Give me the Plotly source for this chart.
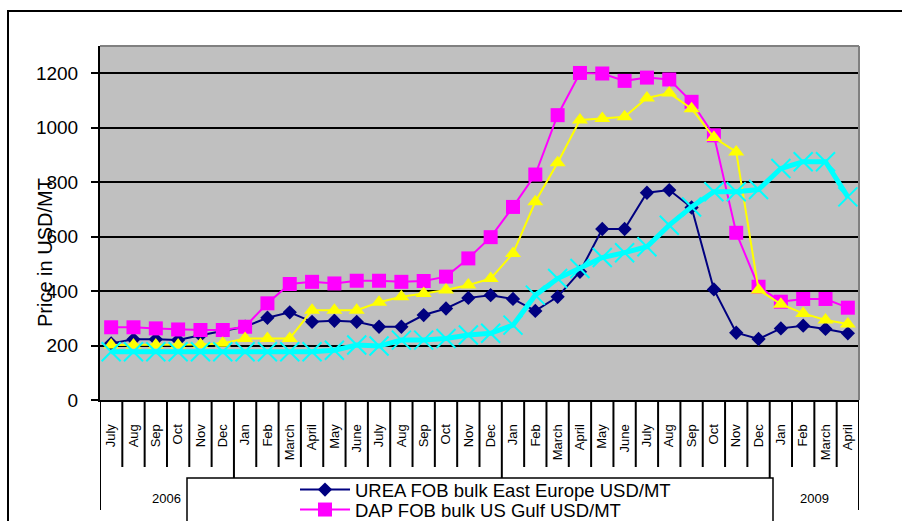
import plotly.graph_objects as go

# Monthly categories, July 2006 .. April 2009
months = (["July", "Aug", "Sep", "Oct", "Nov", "Dec"]
          + ["Jan", "Feb", "March", "April", "May", "June",
             "July", "Aug", "Sep", "Oct", "Nov", "Dec"] * 2
          + ["Jan", "Feb", "March", "April"])
years = ["2006", "2007", "2008", "2009"]
year_lengths = [6, 12, 12, 4]

urea = [208, 223, 223, 220, 238, 254,
        269, 302, 322, 287, 291, 287, 269, 269, 312, 336, 375, 385,
        371, 327, 379, 471, 628, 628, 761, 771, 707, 406, 247, 224,
        263, 273, 261, 245]
dap = [267, 267, 263, 259, 257, 257,
       269, 355, 426, 434, 428, 438, 438, 434, 437, 453, 520, 598,
       709, 828, 1046, 1201, 1199, 1172, 1184, 1177, 1095, 972, 614, 416,
       361, 371, 371, 339]
tsp = [202, 202, 202, 202, 204, 208,
       226, 226, 226, 330, 330, 330, 359, 379, 391, 404, 422, 446,
       538, 728, 871, 1028, 1034, 1040, 1109, 1127, 1070, 964, 911, 404,
       352, 318, 294, 279]
mop = [177, 177, 177, 177, 177, 177,
       177, 177, 177, 177, 183, 202, 198, 220, 220, 226, 239, 245,
       275, 385, 446, 483, 523, 541, 563, 642, 709, 765, 765, 773,
       850, 875, 875, 746]

names = ["UREA FOB bulk East Europe USD/MT",
         "DAP FOB bulk US Gulf USD/MT",
         "TSP FOB bulk US Gulf USD/MT",
         "Potassium chloride FOB Vancouver USD/MT"]

FONT = "Arial, 'Liberation Sans', sans-serif"
W, H = 902, 521
L, R, T, B = 100, 43, 46, 121
PW, PH = W - L - R, H - T - B


def px_x(p):
    return (p - L) / PW


def px_y(p):
    return (H - B - p) / PH


x = list(range(len(months)))
legend_ids = ["legend", "legend2"]

fig = go.Figure()
fig.add_trace(go.Scatter(
    x=x, y=urea, name=names[0], mode="lines+markers", legend=legend_ids[0],
    line=dict(color="#000080", width=2),
    marker=dict(symbol="diamond", size=11, color="#000080")))
fig.add_trace(go.Scatter(
    x=x, y=dap, name=names[1], mode="lines+markers", legend=legend_ids[1],
    line=dict(color="#FF00FF", width=2),
    marker=dict(symbol="square", size=14, color="#FF00FF")))
# the last two entries sit below the visible part of the legend frame
fig.add_trace(go.Scatter(
    x=x, y=tsp, name=names[2], mode="lines+markers", showlegend=False,
    line=dict(color="#FFFF00", width=2),
    marker=dict(symbol="triangle-up", size=14, color="#FFFF00")))
fig.add_trace(go.Scatter(
    x=x, y=mop, name=names[3], mode="lines+markers", showlegend=False,
    line=dict(color="#00FFFF", width=5),
    marker=dict(symbol="x-thin-open", size=19,
                line=dict(color="#00FFFF", width=2))))

shapes = []
# outer chart frame
shapes.append(dict(type="rect", xref="paper", yref="paper",
                   x0=px_x(8), x1=px_x(915), y0=px_y(535), y1=px_y(11),
                   line=dict(color="black", width=2), fillcolor="rgba(0,0,0,0)",
                   layer="below"))
# grey top / right edges of the plot area
shapes.append(dict(type="line", xref="paper", yref="paper", x0=0, x1=1, y0=1, y1=1,
                   line=dict(color="#808080", width=2)))
shapes.append(dict(type="line", xref="paper", yref="paper", x0=1, x1=1, y0=0, y1=1,
                   line=dict(color="#808080", width=2)))

# category dividers below the axis; year boundaries run deeper
year_edges = [0]
for n in year_lengths:
    year_edges.append(year_edges[-1] + n)
for i in range(len(months) + 1):
    deep = i in year_edges
    shapes.append(dict(type="line", xref="x", yref="paper",
                       x0=i - 0.5, x1=i - 0.5, y0=0,
                       y1=px_y(510) if deep else px_y(467),
                       line=dict(color="black", width=2)))

# legend frame
shapes.append(dict(type="rect", xref="paper", yref="paper",
                   x0=px_x(187), x1=px_x(773), y0=px_y(560), y1=px_y(478),
                   line=dict(color="black", width=1.5), fillcolor="white"))

annotations = [dict(text="Price in USD/MT", xref="paper", yref="paper",
                    x=px_x(45), y=px_y(253), xanchor="center", yanchor="middle",
                    textangle=-90, showarrow=False,
                    font=dict(family=FONT, size=20, color="black"))]
# year labels visible outside the legend frame
start = 0
for yr, n in zip(years, year_lengths):
    centre = start + (n - 1) / 2
    if yr in ("2006", "2009"):
        annotations.append(dict(text=yr, xref="x", yref="paper", x=centre,
                                y=px_y(498), xanchor="center", yanchor="middle",
                                showarrow=False,
                                font=dict(family=FONT, size=13, color="black")))
    start += n

legend_layout = {}
for k, lid in enumerate(legend_ids):
    legend_layout[lid] = dict(
        x=px_x(295), y=px_y(471 + 20 * k), xanchor="left", yanchor="top",
        bgcolor="rgba(0,0,0,0)", borderwidth=0, itemwidth=50,
        font=dict(family=FONT, size=18.5, color="black"))

fig.update_layout(
    width=W, height=H,
    margin=dict(l=L, r=R, t=T, b=B, autoexpand=False),
    paper_bgcolor="white", plot_bgcolor="#C0C0C0",
    font=dict(family=FONT, color="black"),
    shapes=shapes, annotations=annotations,
    showlegend=True,
    **legend_layout,
)
fig.update_xaxes(range=[-0.5, len(months) - 0.5], tickmode="array",
                 tickvals=x, ticktext=months, tickangle=-90, ticks="",
                 ticklabelstandoff=17, showgrid=False, zeroline=False,
                 showline=True, linecolor="black", linewidth=2,
                 tickfont=dict(family=FONT, size=13, color="black"))
fig.update_yaxes(range=[0, 1300], tickmode="array",
                 tickvals=[0, 200, 400, 600, 800, 1000, 1200],
                 ticks="outside", ticklen=7, tickwidth=2, tickcolor="black",
                 showgrid=True, gridcolor="black", gridwidth=2, zeroline=False,
                 showline=True, linecolor="black", linewidth=2,
                 ticklabelstandoff=9,
                 tickfont=dict(family=FONT, size=19, color="black"))

fig.write_html("out.html")
